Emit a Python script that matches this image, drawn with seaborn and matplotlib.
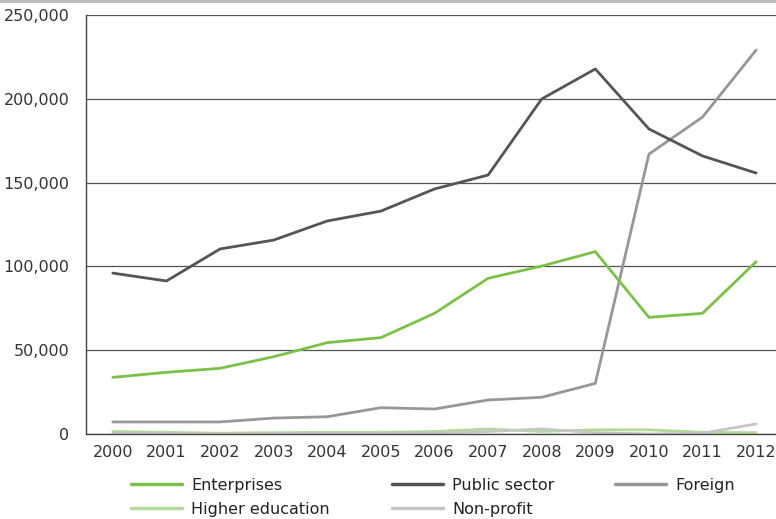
import matplotlib
matplotlib.use("Agg")
import matplotlib.pyplot as plt
from matplotlib.ticker import FuncFormatter, FixedLocator
from matplotlib.patches import Rectangle

import seaborn as sns
import pandas as pd
import numpy as np

sns.set_theme(style="white")
plt.rcParams["font.family"] = ["DejaVu Sans"]

# Data
years = list(range(2000, 2013))
enterprises = [33800, 36800, 39200, 46100, 54500, 57500, 72000, 92900, 100200, 108800, 69600, 72000, 102800]
public_sector = [96000, 91300, 110400, 115700, 127100, 133000, 146200, 154500, 199900, 217800, 182000, 165900, 155700]
foreign = [7200, 7200, 7200, 9500, 10300, 15700, 14900, 20300, 21900, 30200, 167000, 189100, 229100]
higher_education = [1500, 1000, 500, 800, 1000, 1000, 1500, 3000, 1500, 2500, 2500, 1000, 800]
non_profit = [300, 200, 0, 200, 300, 300, 600, 1500, 3000, 800, 0, 500, 6000]

series = {
    "Enterprises": enterprises,
    "Public sector": public_sector,
    "Foreign": foreign,
    "Higher education": higher_education,
    "Non-profit": non_profit,
}
colors = {
    "Enterprises": "#7cc04a",
    "Public sector": "#555555",
    "Foreign": "#979797",
    "Higher education": "#b4d99a",
    "Non-profit": "#c6c6c6",
}

rows = []
for name, vals in series.items():
    for i, v in enumerate(vals):
        rows.append({"pos": i, "year": years[i], "value": v, "sector": name})
df = pd.DataFrame(rows)

fig = plt.figure(figsize=(7.76, 5.19), dpi=100)
ax = fig.add_axes([86 / 776, 1 - 434 / 519, 1 - 86 / 776, (434 - 15) / 519])

# draw lighter series first so dark lines sit on top
order = ["Higher education", "Non-profit", "Foreign", "Enterprises", "Public sector"]
for name in order:
    sns.lineplot(data=df[df["sector"] == name], x="pos", y="value", color=colors[name],
                 linewidth=2, ax=ax, label=name, legend=False)

ax.set_xlim(-0.5, 12.37)
ax.set_ylim(0, 250000)
ax.set_yticks([0, 50000, 100000, 150000, 200000, 250000])
ax.yaxis.set_major_formatter(FuncFormatter(lambda v, p: f"{int(v):,}"))
ax.yaxis.grid(True, color="#555555", linewidth=0.9)
ax.set_axisbelow(True)

ax.set_xticks(range(len(years)))
ax.set_xticklabels([str(y) for y in years])
ax.xaxis.set_minor_locator(FixedLocator(np.arange(-0.5, 13, 1)))
ax.tick_params(axis="x", which="major", length=0, pad=8, labelsize=11.5, colors="#333333")
ax.tick_params(axis="x", which="minor", length=6, width=1, color="#444444", direction="out")
ax.tick_params(axis="y", which="major", length=6, width=1, color="#444444", direction="out",
               labelsize=11.5, labelcolor="#333333", pad=6)
ax.set_xlabel("")
ax.set_ylabel("")

for s in ["top", "right"]:
    ax.spines[s].set_visible(False)
for s in ["left", "bottom"]:
    ax.spines[s].set_color("#444444")
    ax.spines[s].set_linewidth(1)

# legend: three columns placed where the reference has them
handles, labels = ax.get_legend_handles_labels()
hmap = dict(zip(labels, handles))
columns = [
    (["Enterprises", "Higher education"], 131),
    (["Public sector", "Non-profit"], 392),
    (["Foreign"], 615),
]
for names, x0 in columns:
    leg = fig.legend([hmap[k] for k in names], names, loc="upper left",
                     bbox_to_anchor=(x0 / 776, 1 - 478 / 519), frameon=False, fontsize=11.5,
                     handlelength=3.2, handletextpad=0.55, labelspacing=0.55,
                     borderpad=0, borderaxespad=0, labelcolor="#222222")
    for line in leg.get_lines():
        line.set_linewidth(2.5)

# thin gray band along the top
fig.add_artist(Rectangle((0, 1 - 3 / 519), 1, 3 / 519, transform=fig.transFigure,
                         color="#bdbdbd", linewidth=0))

fig.savefig("out.png", dpi=100)
